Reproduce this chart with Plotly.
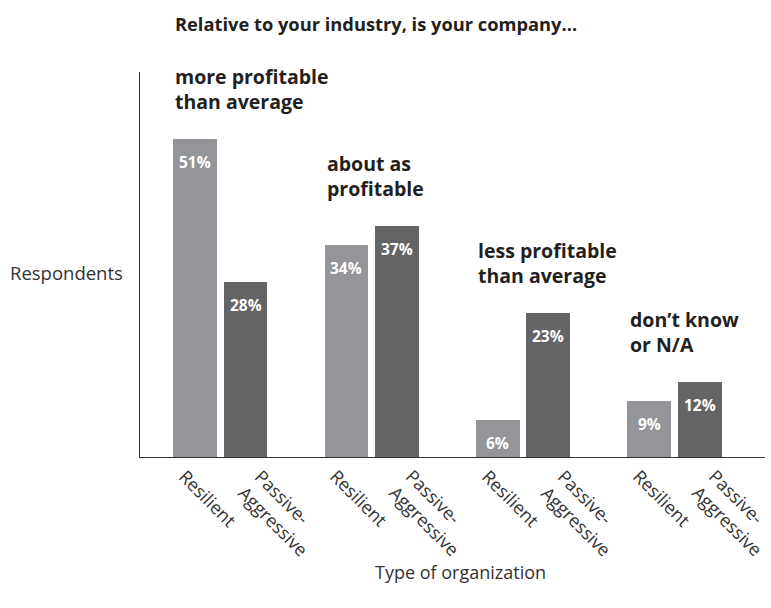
import plotly.graph_objects as go

groups = ["more profitable<br>than average", "about as<br>profitable",
          "less profitable<br>than average", "don’t know<br>or N/A"]
org_types = ["Resilient", "Passive-<br>Aggressive"]
resilient = [51, 34, 6, 9]
passive_aggressive = [28, 37, 23, 12]

title = "Relative to your industry, is your company…"
y_title = "Respondents"
x_title = "Type of organization"

C_RES = "#939598"
C_PA = "#636466"
TXT = "#231f20"
FONT = "Open Sans"

GAP = 3  # units between group starts
xr = [GAP * i for i in range(len(groups))]
xp = [GAP * i + 1 for i in range(len(groups))]

fig = go.Figure()
for xs, vals, col in [(xr, resilient, C_RES), (xp, passive_aggressive, C_PA)]:
    fig.add_trace(go.Bar(
        x=xs, y=vals, width=0.87, marker=dict(color=col, line=dict(width=0)),
        hoverinfo="skip", showlegend=False,
    ))
    for x, v in zip(xs, vals):
        fig.add_annotation(
            x=x, y=v, xref="x", yref="y", text=f"{v}%", showarrow=False,
            xanchor="center", yanchor="middle", yshift=-23,
            font=dict(family=FONT, size=15.5, color="white", weight="bold"),
        )

# rotated category tick labels
for i in range(len(groups)):
    for x, lab, xs in [(xr[i], org_types[0], -24), (xp[i], org_types[1], -15)]:
        fig.add_annotation(
            x=x, y=0, xref="x", yref="y", text=lab, showarrow=False,
            textangle=45, xanchor="left", yanchor="top", align="left",
            xshift=xs, yshift=-5,
            font=dict(family=FONT, size=18, color="#333333"),
        )

for i, g in enumerate(groups):
    fig.add_annotation(
        x=xr[i] - 0.43, y=max(resilient[i], passive_aggressive[i]),
        xref="x", yref="y", text=g, showarrow=False, xanchor="left",
        yanchor="bottom", yshift=22, align="left",
        font=dict(family=FONT, size=19.5, color=TXT, weight="bold"),
    )

fig.add_annotation(x=0.053, y=1.0, xref="paper", yref="paper", yshift=49,
                   text=title, showarrow=False, xanchor="left", yanchor="middle",
                   font=dict(family=FONT, size=18.3, color=TXT, weight="bold"))
fig.add_annotation(x=-0.024, y=0.48, xref="paper", yref="paper", text=y_title,
                   showarrow=False, xanchor="right", yanchor="middle",
                   font=dict(family=FONT, size=18.5, color="#333333"))
fig.add_annotation(x=0.512, y=0, xref="paper", yref="paper", yshift=-115,
                   text=x_title, showarrow=False, xanchor="center", yanchor="middle",
                   font=dict(family=FONT, size=18, color="#333333"))

fig.update_layout(
    width=771, height=608, margin=dict(l=140, r=6, t=72, b=151),
    paper_bgcolor="white", plot_bgcolor="white", bargap=0,
    xaxis=dict(range=[-1.09, 11.29], showticklabels=False,
               showgrid=False, zeroline=False, showline=True,
               linecolor="#333333", linewidth=1, ticks=""),
    yaxis=dict(range=[0, 61.7], showgrid=False, zeroline=False, showline=True,
               linecolor="#333333", linewidth=1, showticklabels=False, ticks=""),
)

fig.write_html("out.html")
